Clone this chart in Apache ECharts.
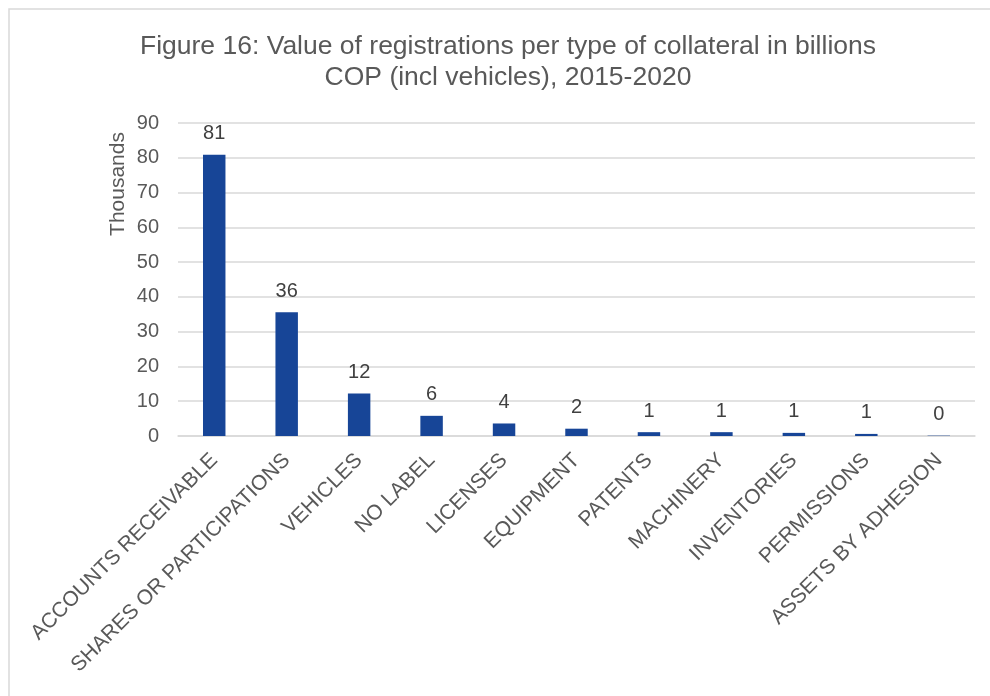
<!DOCTYPE html>
<html>
<head>
<meta charset="utf-8">
<script src="https://cdn.jsdelivr.net/npm/echarts@6/dist/echarts.min.js"></script>
<style>
  html, body { margin: 0; padding: 0; background: #ffffff; }
  #chart { width: 990px; height: 696px; }
</style>
</head>
<body>
<div id="chart"></div>
<script>
// Collateral types (x axis)
const categories = [
  'ACCOUNTS RECEIVABLE', 'SHARES OR PARTICIPATIONS', 'VEHICLES', 'NO LABEL',
  'LICENSES', 'EQUIPMENT', 'PATENTS', 'MACHINERY', 'INVENTORIES',
  'PERMISSIONS', 'ASSETS BY ADHESION'
];
// Value of registrations, thousands of billions COP
const values = [80.9, 35.6, 12.2, 5.8, 3.6, 2.1, 1.1, 1.1, 0.9, 0.6, 0.1];
// Value axis ticks
const yTicks = [0, 10, 20, 30, 40, 50, 60, 70, 80, 90];

const titleLines = [
  'Figure 16: Value of registrations per type of collateral in billions',
  'COP (incl vehicles), 2015-2020'
];
const unitLabel = 'Thousands';

const FONT = '"Liberation Sans", Arial, sans-serif';
const chart = echarts.init(document.getElementById('chart'), null, { renderer: 'canvas' });

chart.setOption({
  backgroundColor: '#ffffff',
  animation: false,
  textStyle: { fontFamily: FONT },
  title: {
    text: titleLines.join('\n'),
    left: 503,
    top: 26,
    textAlign: 'center',
    textStyle: {
      fontFamily: FONT,
      fontSize: 26.5,
      fontWeight: 'normal',
      color: '#595959',
      lineHeight: 31
    }
  },
  graphic: [
    {
      type: 'rect',
      shape: { x: 9, y: 9, width: 1000, height: 720 },
      style: { fill: 'none', stroke: '#d9d9d9', lineWidth: 1.5 },
      silent: true
    },
    {
      type: 'text',
      x: 118,
      y: 184,
      rotation: Math.PI / 2,
      style: {
        text: unitLabel,
        font: '21px ' + FONT,
        fill: '#595959',
        align: 'center',
        verticalAlign: 'middle'
      }
    }
  ],
  grid: { left: 178, right: 15, top: 123, bottom: 260, containLabel: false },
  xAxis: {
    type: 'category',
    data: categories,
    axisLine: { show: true, lineStyle: { color: '#d9d9d9', width: 1.5 } },
    axisTick: { show: false },
    axisLabel: {
      interval: 0,
      rotate: 45,
      margin: 21,
      fontSize: 21,
      fontFamily: FONT,
      color: '#595959'
    }
  },
  yAxis: {
    type: 'value',
    min: yTicks[0],
    max: yTicks[yTicks.length - 1],
    interval: yTicks[1] - yTicks[0],
    axisLine: { show: false },
    axisTick: { show: false },
    splitLine: { lineStyle: { color: '#d9d9d9', width: 1.5 } },
    axisLabel: {
      margin: 19,
      fontSize: 20,
      fontFamily: FONT,
      color: '#595959'
    }
  },
  series: [{
    type: 'bar',
    data: values,
    barWidth: '31%',
    itemStyle: { color: '#174597' },
    label: {
      show: true,
      position: 'top',
      distance: 11,
      fontSize: 20,
      fontFamily: FONT,
      color: '#404040',
      formatter: p => String(Math.round(p.value))
    }
  }]
});
</script>
</body>
</html>
